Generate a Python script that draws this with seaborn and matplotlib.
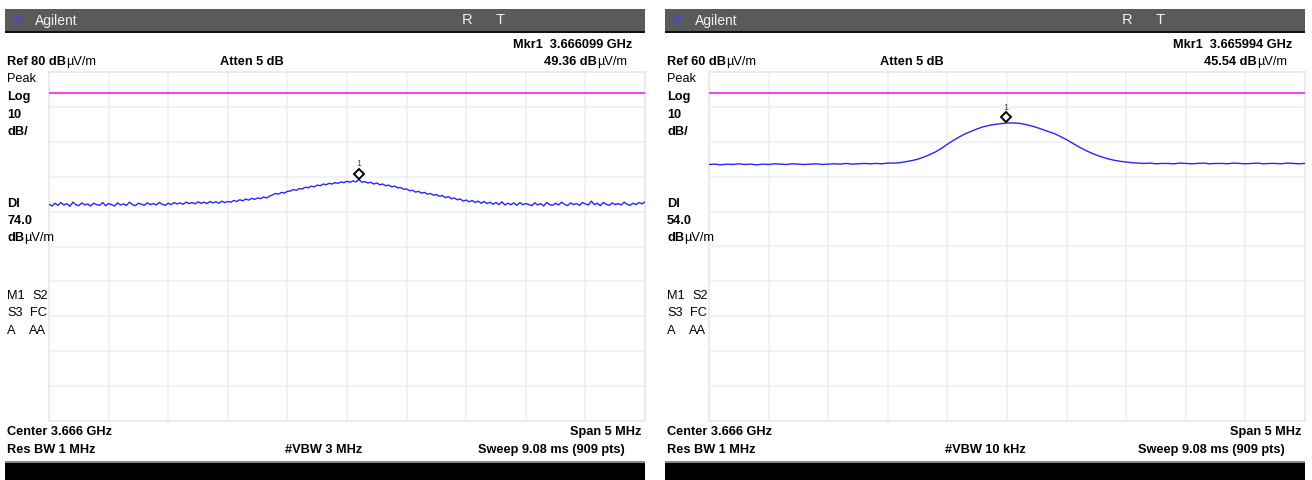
import numpy as np
import pandas as pd
import matplotlib
matplotlib.use("Agg")
import matplotlib.pyplot as plt
import seaborn as sns
from matplotlib.patches import Rectangle
from matplotlib.transforms import ScaledTranslation

# ---------------- data ----------------
center_ghz = 3.666
span_mhz = 5.0
ref_levels = [80, 60]              # dBuV/m at top of graticule
display_lines = [74.0, 54.0]       # DL level
display_labels = ["74.0", "54.0"]
marker_freqs = [3.666099, 3.665994]   # GHz
marker_levels = [49.36, 45.54]        # dBuV/m
marker_texts = ["3.666099 GHz", "3.665994 GHz"]
vbw_labels = ["#VBW 3 MHz", "#VBW 10 kHz"]

trace_left = [
    42.1, 41.6, 42.4, 41.8, 42.6, 41.9, 42.3, 41.5, 42.7, 42.0,
    41.7, 42.5, 41.9, 42.2, 41.6, 42.4, 42.0, 41.8, 42.6, 41.7,
    42.3, 42.0, 41.6, 42.5, 41.9, 42.2, 41.8, 42.7, 42.0, 41.7,
    42.4, 42.1, 41.8, 42.5, 42.0, 42.3, 41.9, 42.6, 42.1, 41.8, 42.4,
    42.0, 42.6, 42.2, 42.5, 42.1, 42.7, 42.3, 42.6, 42.2, 42.8,
    42.4, 42.7, 42.3, 42.9, 42.5, 42.8, 42.4, 43.0, 42.6, 42.9,
    42.7, 43.2, 42.9, 43.4, 43.1, 43.6, 43.3, 43.8, 43.5, 43.9,
    43.7, 44.2, 43.9, 44.4, 44.8, 45.2, 45.0, 45.5, 45.3, 45.8,
    45.9, 46.3, 46.1, 46.6, 46.5, 47.0, 46.8, 47.3, 47.1, 47.6,
    47.4, 47.9, 47.7, 48.1, 47.9, 48.3, 48.1, 48.5, 48.3, 48.7,
    48.4, 48.8, 48.5, 49.2, 48.4, 48.6, 48.2, 48.4, 47.9, 48.2,
    47.7, 47.9, 47.4, 47.6, 47.1, 47.3, 46.8, 46.9, 46.4, 46.5,
    46.0, 46.1, 45.6, 45.8, 45.3, 45.5, 45.0, 45.2, 44.7, 44.9,
    44.4, 44.6, 44.0, 44.3, 43.7, 43.9, 43.4, 43.6, 43.0, 43.3,
    42.8, 43.2, 42.6, 43.0, 42.4, 42.9, 42.3, 42.7, 42.1, 42.6,
    42.0, 42.8, 41.9, 42.4, 42.0, 42.5, 41.8, 42.6, 42.0, 42.3,
    42.0, 41.7, 42.5, 41.9, 42.3, 41.6, 42.6, 42.0, 41.8, 42.4,
    41.9, 42.7, 42.1, 41.7, 42.5, 42.0, 42.3, 41.8, 42.6, 42.2,
    41.9, 43.0, 42.0, 42.4, 41.7, 42.6, 42.1, 41.8, 42.5, 42.0,
    42.3, 41.9, 42.7, 42.1, 41.8, 42.4, 42.0, 42.6, 42.2, 42.8,
]

trace_right = [
    33.5, 33.6, 33.4, 33.6, 33.5, 33.7, 33.5, 33.6, 33.4, 33.6,
    33.5, 33.7, 33.6, 33.5, 33.7, 33.6, 33.5, 33.6, 33.7, 33.5,
    33.6, 33.7, 33.6, 33.8, 33.6, 33.7, 33.8, 33.7, 33.8, 33.7, 33.9,
    33.9, 34.0, 34.3, 34.6, 35.0, 35.6, 36.3, 37.1, 38.1, 39.3,
    40.4, 41.4, 42.3, 43.0, 43.7, 44.3, 44.7, 45.0, 45.2, 45.4,
    45.4, 45.3, 45.0, 44.6, 44.1, 43.5, 42.9, 42.3, 41.5, 40.6,
    39.6, 38.6, 37.7, 36.9, 36.2, 35.6, 35.1, 34.7, 34.4, 34.2,
    34.0, 33.9, 33.8, 33.9, 33.7, 33.8, 33.8, 33.7, 33.9, 33.8,
    33.7, 33.8, 33.9, 33.7, 33.8, 33.8, 33.7, 33.9, 33.8, 33.7,
    33.8, 33.9, 33.7, 33.8, 33.8, 33.7, 33.9, 33.8, 33.7, 33.8,
]
traces = [trace_left, trace_right]

# ---------------- style ----------------
sns.set_style("white")
plt.rcParams["font.family"] = ["Liberation Sans", "DejaVu Sans"]

W, H = 1312, 480
fig = plt.figure(figsize=(W / 100, H / 100), dpi=100)
fig.patch.set_facecolor("white")
renderer = fig.canvas.get_renderer()

def fx(x):
    return x / W

def fy(y):
    return 1 - y / H

FS = 9.2

def rich(pieces, x, y, ha="left", size=FS, color="black"):
    texts = []
    for s, w in pieces:
        t = fig.text(0, fy(y), s, fontsize=size, fontweight=w,
                     va="center", ha="left", color=color)
        texts.append(t)
    widths = [t.get_window_extent(renderer).width for t in texts]
    total = sum(widths)
    cur = x if ha == "left" else (x - total if ha == "right" else x - total / 2)
    for t, wd in zip(texts, widths):
        t.set_x(fx(cur))
        cur += wd

def rect(x0, y0, x1, y1, fc):
    fig.patches.append(Rectangle((fx(x0), fy(y1)), (x1 - x0) / W, (y1 - y0) / H,
                                 transform=fig.transFigure, facecolor=fc,
                                 edgecolor="none", linewidth=0, zorder=0))

start_ghz = center_ghz - span_mhz / 2000
stop_ghz = center_ghz + span_mhz / 2000

for p in range(2):
    ox = p * 660
    ref = ref_levels[p]
    # header bar
    rect(ox + 5, 9, ox + 645, 31, "#5a5a5a")
    rect(ox + 5, 31, ox + 645, 33, "#111111")
    fig.text(fx(ox + 17), fy(20.5), "\u2733", fontsize=11.5, color="#4040ff",
             ha="center", va="center", family="DejaVu Sans")
    fig.text(fx(ox + 35), fy(20.5), "Agilent", fontsize=10, color="#f2f2f2",
             ha="left", va="center")
    fig.text(fx(ox + 467), fy(20.5), "R", fontsize=10.5, color="#f2f2f2",
             ha="center", va="center")
    fig.text(fx(ox + 500), fy(20.5), "T", fontsize=10.5, color="#f2f2f2",
             ha="center", va="center")

    # top annotation rows
    rich([("Mkr1  " + marker_texts[p], "bold")], ox + 632, 45, ha="right")
    rich([(f"Ref {ref} dB", "bold"), ("\u00b5V/m", "normal")], ox + 7, 62)
    rich([("Atten 5 dB", "bold")], ox + 220, 62)
    rich([(f"{marker_levels[p]:.2f} dB", "bold"), ("\u00b5V/m", "normal")],
         ox + 627, 62, ha="right")

    # left side labels
    rich([("Peak", "normal")], ox + 7, 79)
    rich([("Log", "bold")], ox + 7, 97)
    rich([("10", "bold")], ox + 7, 115)
    rich([("dB/", "bold")], ox + 7, 132)
    rich([("Dl", "bold")], ox + 7, 204)
    rich([(display_labels[p], "bold")], ox + 7, 221)
    rich([("dB", "bold"), ("\u00b5V/m", "normal")], ox + 7, 238)
    rich([("M1", "normal")], ox + 7, 296)
    rich([("S2", "normal")], ox + 32, 296)
    rich([("S3", "normal")], ox + 7, 313)
    rich([("FC", "normal")], ox + 30, 313)
    rich([("A", "normal")], ox + 7, 331)
    rich([("AA", "normal")], ox + 29, 331)

    # bottom rows
    rich([("Center 3.666 GHz", "bold")], ox + 7, 432)
    rich([("Span 5 MHz", "bold")], ox + 641, 432, ha="right")
    rich([("Res BW 1 MHz", "bold")], ox + 7, 450)
    rich([(vbw_labels[p], "bold")], ox + 285, 450)
    rich([("Sweep 9.08 ms (909 pts)", "bold")], ox + 625, 450, ha="right")

    # bottom black bar
    rect(ox + 5, 461, ox + 645, 463, "#8a8a8a")
    rect(ox + 5, 463, ox + 645, 480, "#000000")

    # graticule
    gx0, gx1, gy0, gy1 = ox + 49, ox + 645, 72, 421
    ax = fig.add_axes([fx(gx0), fy(gy1), (gx1 - gx0) / W, (gy1 - gy0) / H])
    ax.set_facecolor("white")
    ax.set_xlim(start_ghz, stop_ghz)
    ax.set_ylim(ref - 100, ref)
    ax.set_xticks(np.linspace(start_ghz, stop_ghz, 11))
    ax.set_yticks(np.arange(ref - 100, ref + 1, 10))
    ax.grid(True, color="#efefef", linewidth=1.1)
    ax.tick_params(length=0, labelbottom=False, labelleft=False)
    for s in ax.spines.values():
        s.set_color("#ebebeb")
        s.set_linewidth(1.5)

    ax.axhline(display_lines[p], color="#ff00ff", linewidth=1.1, zorder=3)

    vals = traces[p]
    df = pd.DataFrame({"freq": np.linspace(start_ghz, stop_ghz, len(vals)),
                       "level": vals})
    sns.lineplot(data=df, x="freq", y="level", ax=ax, color="#2626ff",
                 linewidth=1.0, zorder=4)
    ax.set_xlabel("")
    ax.set_ylabel("")

    # marker
    ax.plot([marker_freqs[p]], [marker_levels[p]], linestyle="none",
            marker="D", markersize=5, markerfacecolor="white",
            markeredgecolor="black", markeredgewidth=1.4, zorder=6,
            transform=ax.transData + ScaledTranslation(0, 5 / 100, fig.dpi_scale_trans))
    ax.annotate("1", xy=(marker_freqs[p], marker_levels[p]), xytext=(0, 15),
                textcoords="offset pixels", ha="center", va="center",
                fontsize=6.5, color="#444444")

fig.savefig("out.png", dpi=100, facecolor="white")
